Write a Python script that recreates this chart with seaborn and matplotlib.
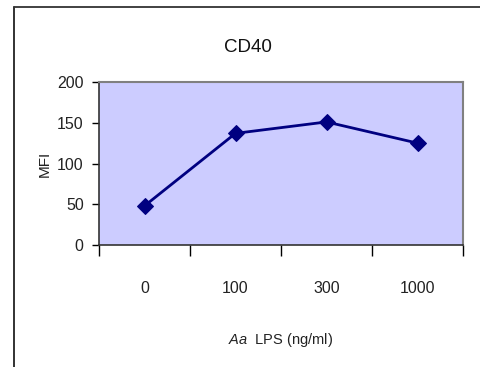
import matplotlib
matplotlib.use("Agg")
import matplotlib.pyplot as plt
import seaborn as sns
import pandas as pd
from matplotlib.lines import Line2D

doses = ["0", "100", "300", "1000"]
mfi = [48, 137, 151, 125]
y_ticks = [0, 50, 100, 150, 200]

sns.set_style("white")
plt.rcParams["font.family"] = ["Liberation Sans", "DejaVu Sans"]
plt.rcParams["mathtext.fontset"] = "custom"
plt.rcParams["mathtext.it"] = "Liberation Sans:italic"
plt.rcParams["mathtext.rm"] = "Liberation Sans"

W, H = 481, 367
fig = plt.figure(figsize=(W / 100, H / 100), dpi=100)
ax = fig.add_axes([99 / W, 1 - 245 / H, (463 - 99) / W, (245 - 82) / H])
ax.set_facecolor("#CCCCFF")

df = pd.DataFrame({"dose": doses, "mfi": mfi})
sns.lineplot(data=df, x="dose", y="mfi", ax=ax, color="#000080", lw=2,
             marker="D", markersize=8, markeredgecolor="#000080", sort=False)

ax.set_xlim(-0.5, len(doses) - 0.5)
ax.set_ylim(0, 200)
ax.set_yticks(y_ticks)
ax.set_yticklabels([str(v) for v in y_ticks], fontsize=11.5, color="#222222")

# category boundaries carry the tick marks; labels sit at the centres
ax.set_xticks([i - 0.5 for i in range(len(doses) + 1)])
ax.set_xticklabels([])
ax.set_xticks(range(len(doses)), minor=True)
ax.set_xticklabels(doses, minor=True, fontsize=11.5, color="#222222")
ax.tick_params(axis="x", which="major", direction="out", length=8, width=1,
               color="black", bottom=True)
ax.tick_params(axis="x", which="minor", length=0, pad=26)
ax.tick_params(axis="y", direction="out", length=5, width=1, color="black",
               left=True, pad=6)

for side in ("top", "right"):
    ax.spines[side].set_color("#808080")
    ax.spines[side].set_linewidth(1.5)
for side in ("left", "bottom"):
    ax.spines[side].set_color("#333333")
    ax.spines[side].set_linewidth(1.2)

ax.set_xlabel("")
ax.set_ylabel("MFI", fontsize=11, color="#222222", labelpad=4)

fig.text(248 / W, 1 - 48 / H, "CD40", ha="center", va="center", fontsize=13.5,
         color="#111111")
fig.text(281 / W, 1 - 340 / H, r"$\mathit{Aa}$" + "  LPS (ng/ml)", ha="center",
         va="center", fontsize=10.5, color="#222222")

# chart frame
fig.add_artist(Line2D([13.5 / W, 13.5 / W], [0, 1 - 6.5 / H],
                      transform=fig.transFigure, color="#222222", lw=1.3))
fig.add_artist(Line2D([13.5 / W, 1], [1 - 6.5 / H, 1 - 6.5 / H],
                      transform=fig.transFigure, color="#333333", lw=1.3))

fig.savefig("out.png", dpi=100)
